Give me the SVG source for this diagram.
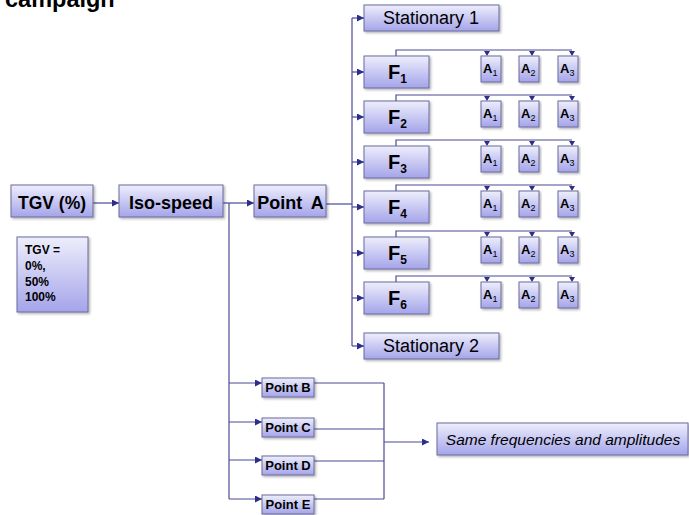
<svg xmlns="http://www.w3.org/2000/svg" width="689" height="515" viewBox="0 0 689 515">
  <defs>
    <linearGradient id="boxFill" x1="0" y1="0" x2="0" y2="1">
      <stop offset="0" stop-color="#eeeefc"/>
      <stop offset="1" stop-color="#a4a4ea"/>
    </linearGradient>
    <filter id="shadow" x="-10%" y="-10%" width="125%" height="135%">
      <feDropShadow dx="1.5" dy="1.5" stdDeviation="1.2" flood-color="#000" flood-opacity="0.3"/>
    </filter>
    <marker id="arr" viewBox="0 0 10 10" refX="10" refY="5" markerWidth="7" markerHeight="7" markerUnits="userSpaceOnUse" orient="auto">
      <path d="M0,0 L10,5 L0,10 z" fill="#2e2e8a"/>
    </marker>
  </defs>
  <style>
    .box { fill: url(#boxFill); stroke: #6a6a9e; stroke-width: 1; filter: url(#shadow); }
    .line { fill: none; stroke: #4a4a96; stroke-width: 1.2; }
    .arrow { fill: none; stroke: #4a4a96; stroke-width: 1.2; marker-end: url(#arr); }
    .tip { fill: #2e2e8a; }
    text { font-family: "Liberation Sans", Arial, sans-serif; fill: #000; }
    .b { font-weight: bold; }
    .mid { text-anchor: middle; }
  </style>

  <!-- heading, cut at the top edge -->
  <text x="5" y="7" class="b" font-size="23.5">campaign</text>

  <!-- connectors -->
  <g id="connectors">
    <line class="arrow" x1="93" y1="203" x2="119" y2="203"/>
    <line class="arrow" x1="223" y1="203" x2="254" y2="203"/>
    <line class="line" x1="326" y1="204" x2="352" y2="204"/>
    <!-- Point A fan-out -->
    <line class="line" x1="352" y1="18" x2="352" y2="346"/>
    <line class="arrow" x1="352" y1="18" x2="364" y2="18"/>
    <line class="arrow" x1="352" y1="72" x2="364" y2="72"/>
    <line class="arrow" x1="352" y1="117" x2="364" y2="117"/>
    <line class="arrow" x1="352" y1="162" x2="364" y2="162"/>
    <line class="arrow" x1="352" y1="207" x2="364" y2="207"/>
    <line class="arrow" x1="352" y1="253" x2="364" y2="253"/>
    <line class="arrow" x1="352" y1="298" x2="364" y2="298"/>
    <line class="arrow" x1="352" y1="346" x2="364" y2="346"/>
    <!-- frequency to amplitude buses -->
    <g id="bus1">
      <path class="line" d="M396,56 V50 H572"/>
      <path class="tip" d="M484,51 h6 l-3,5 z M529,51 h6 l-3,5 z M569,51 h6 l-3,5 z"/>
    </g>
    <g id="bus2" transform="translate(0,45)">
      <path class="line" d="M396,56 V50 H572"/>
      <path class="tip" d="M484,51 h6 l-3,5 z M529,51 h6 l-3,5 z M569,51 h6 l-3,5 z"/>
    </g>
    <g id="bus3" transform="translate(0,90)">
      <path class="line" d="M396,56 V50 H572"/>
      <path class="tip" d="M484,51 h6 l-3,5 z M529,51 h6 l-3,5 z M569,51 h6 l-3,5 z"/>
    </g>
    <g id="bus4" transform="translate(0,135)">
      <path class="line" d="M396,56 V50 H572"/>
      <path class="tip" d="M484,51 h6 l-3,5 z M529,51 h6 l-3,5 z M569,51 h6 l-3,5 z"/>
    </g>
    <g id="bus5" transform="translate(0,181)">
      <path class="line" d="M396,56 V50 H572"/>
      <path class="tip" d="M484,51 h6 l-3,5 z M529,51 h6 l-3,5 z M569,51 h6 l-3,5 z"/>
    </g>
    <g id="bus6" transform="translate(0,226)">
      <path class="line" d="M396,56 V50 H572"/>
      <path class="tip" d="M484,51 h6 l-3,5 z M529,51 h6 l-3,5 z M569,51 h6 l-3,5 z"/>
    </g>
    <!-- Iso-speed to other points -->
    <line class="line" x1="229" y1="203" x2="229" y2="499"/>
    <line class="arrow" x1="229" y1="383" x2="262" y2="383"/>
    <line class="arrow" x1="229" y1="422" x2="262" y2="422"/>
    <line class="arrow" x1="229" y1="460" x2="262" y2="460"/>
    <line class="arrow" x1="229" y1="499" x2="262" y2="499"/>
    <!-- merge to common result -->
    <line class="line" x1="314" y1="383" x2="384" y2="383"/>
    <line class="line" x1="314" y1="429" x2="384" y2="429"/>
    <line class="line" x1="314" y1="461" x2="384" y2="461"/>
    <line class="line" x1="314" y1="499" x2="384" y2="499"/>
    <line class="line" x1="384" y1="383" x2="384" y2="499"/>
    <line class="arrow" x1="384" y1="442" x2="429" y2="442"/>
  </g>

  <!-- main chain -->
  <g id="tgv">
    <rect class="box" x="11" y="185" width="82" height="32"/>
    <text x="52" y="209" class="b mid" font-size="17.5">TGV (%)</text>
  </g>
  <g id="tgv-values">
    <rect class="box" x="17" y="237" width="71" height="75"/>
    <text x="25" y="254" class="b" font-size="12">TGV =</text>
    <text x="25" y="270" class="b" font-size="12">0%,</text>
    <text x="25" y="286" class="b" font-size="12">50%</text>
    <text x="25" y="301" class="b" font-size="12">100%</text>
  </g>
  <g id="iso-speed">
    <rect class="box" x="119" y="185" width="104" height="32"/>
    <text x="171" y="209" class="b mid" font-size="18">Iso-speed</text>
  </g>
  <g id="point-a">
    <rect class="box" x="254" y="185" width="72" height="32"/>
    <text x="290.5" y="209" class="b mid" font-size="18" word-spacing="4">Point A</text>
  </g>

  <!-- stationary cases -->
  <g id="stationary-1">
    <rect class="box" x="364" y="5" width="135" height="26"/>
    <text x="431" y="24" class="mid" font-size="18">Stationary 1</text>
  </g>
  <g id="stationary-2">
    <rect class="box" x="364" y="333" width="135" height="26"/>
    <text x="431" y="352" class="mid" font-size="18">Stationary 2</text>
  </g>

  <!-- frequencies -->
  <g id="f1">
    <rect class="box" x="364" y="56" width="65" height="32"/>
    <text x="388" y="79" class="b" font-size="20">F<tspan font-size="12" dy="4">1</tspan></text>
  </g>
  <g id="f2">
    <rect class="box" x="364" y="101" width="65" height="32"/>
    <text x="388" y="124" class="b" font-size="20">F<tspan font-size="12" dy="4">2</tspan></text>
  </g>
  <g id="f3">
    <rect class="box" x="364" y="146" width="65" height="32"/>
    <text x="388" y="169" class="b" font-size="20">F<tspan font-size="12" dy="4">3</tspan></text>
  </g>
  <g id="f4">
    <rect class="box" x="364" y="191" width="65" height="32"/>
    <text x="388" y="214" class="b" font-size="20">F<tspan font-size="12" dy="4">4</tspan></text>
  </g>
  <g id="f5">
    <rect class="box" x="364" y="237" width="65" height="32"/>
    <text x="388" y="260" class="b" font-size="20">F<tspan font-size="12" dy="4">5</tspan></text>
  </g>
  <g id="f6">
    <rect class="box" x="364" y="282" width="65" height="32"/>
    <text x="388" y="305" class="b" font-size="20">F<tspan font-size="12" dy="4">6</tspan></text>
  </g>

  <!-- amplitudes per frequency -->
  <g id="amps-f1">
    <rect class="box" x="481" y="56" width="20" height="26"/>
    <rect class="box" x="519" y="56" width="20" height="26"/>
    <rect class="box" x="558" y="56" width="20" height="26"/>
    <text x="483" y="73" class="b" font-size="13">A<tspan font-size="9" font-weight="normal" dy="3">1</tspan></text>
    <text x="521" y="73" class="b" font-size="13">A<tspan font-size="9" font-weight="normal" dy="3">2</tspan></text>
    <text x="560" y="73" class="b" font-size="13">A<tspan font-size="9" font-weight="normal" dy="3">3</tspan></text>
  </g>
  <g id="amps-f2" transform="translate(0,45)">
    <rect class="box" x="481" y="56" width="20" height="26"/>
    <rect class="box" x="519" y="56" width="20" height="26"/>
    <rect class="box" x="558" y="56" width="20" height="26"/>
    <text x="483" y="73" class="b" font-size="13">A<tspan font-size="9" font-weight="normal" dy="3">1</tspan></text>
    <text x="521" y="73" class="b" font-size="13">A<tspan font-size="9" font-weight="normal" dy="3">2</tspan></text>
    <text x="560" y="73" class="b" font-size="13">A<tspan font-size="9" font-weight="normal" dy="3">3</tspan></text>
  </g>
  <g id="amps-f3" transform="translate(0,90)">
    <rect class="box" x="481" y="56" width="20" height="26"/>
    <rect class="box" x="519" y="56" width="20" height="26"/>
    <rect class="box" x="558" y="56" width="20" height="26"/>
    <text x="483" y="73" class="b" font-size="13">A<tspan font-size="9" font-weight="normal" dy="3">1</tspan></text>
    <text x="521" y="73" class="b" font-size="13">A<tspan font-size="9" font-weight="normal" dy="3">2</tspan></text>
    <text x="560" y="73" class="b" font-size="13">A<tspan font-size="9" font-weight="normal" dy="3">3</tspan></text>
  </g>
  <g id="amps-f4" transform="translate(0,135)">
    <rect class="box" x="481" y="56" width="20" height="26"/>
    <rect class="box" x="519" y="56" width="20" height="26"/>
    <rect class="box" x="558" y="56" width="20" height="26"/>
    <text x="483" y="73" class="b" font-size="13">A<tspan font-size="9" font-weight="normal" dy="3">1</tspan></text>
    <text x="521" y="73" class="b" font-size="13">A<tspan font-size="9" font-weight="normal" dy="3">2</tspan></text>
    <text x="560" y="73" class="b" font-size="13">A<tspan font-size="9" font-weight="normal" dy="3">3</tspan></text>
  </g>
  <g id="amps-f5" transform="translate(0,181)">
    <rect class="box" x="481" y="56" width="20" height="26"/>
    <rect class="box" x="519" y="56" width="20" height="26"/>
    <rect class="box" x="558" y="56" width="20" height="26"/>
    <text x="483" y="73" class="b" font-size="13">A<tspan font-size="9" font-weight="normal" dy="3">1</tspan></text>
    <text x="521" y="73" class="b" font-size="13">A<tspan font-size="9" font-weight="normal" dy="3">2</tspan></text>
    <text x="560" y="73" class="b" font-size="13">A<tspan font-size="9" font-weight="normal" dy="3">3</tspan></text>
  </g>
  <g id="amps-f6" transform="translate(0,226)">
    <rect class="box" x="481" y="56" width="20" height="26"/>
    <rect class="box" x="519" y="56" width="20" height="26"/>
    <rect class="box" x="558" y="56" width="20" height="26"/>
    <text x="483" y="73" class="b" font-size="13">A<tspan font-size="9" font-weight="normal" dy="3">1</tspan></text>
    <text x="521" y="73" class="b" font-size="13">A<tspan font-size="9" font-weight="normal" dy="3">2</tspan></text>
    <text x="560" y="73" class="b" font-size="13">A<tspan font-size="9" font-weight="normal" dy="3">3</tspan></text>
  </g>

  <!-- other measuring points -->
  <g id="point-b">
    <rect class="box" x="262" y="378" width="52" height="19"/>
    <text x="288" y="392" class="b mid" font-size="13">Point B</text>
  </g>
  <g id="point-c">
    <rect class="box" x="262" y="418" width="52" height="19"/>
    <text x="288" y="432" class="b mid" font-size="13">Point C</text>
  </g>
  <g id="point-d">
    <rect class="box" x="262" y="456" width="52" height="19"/>
    <text x="288" y="470" class="b mid" font-size="13">Point D</text>
  </g>
  <g id="point-e">
    <rect class="box" x="262" y="495" width="52" height="19"/>
    <text x="288" y="509" class="b mid" font-size="13">Point E</text>
  </g>

  <g id="same-result">
    <rect class="box" x="437" y="423" width="251" height="32"/>
    <text x="563" y="444.5" class="mid" font-size="15.5" font-style="italic">Same frequencies and amplitudes</text>
  </g>
</svg>
